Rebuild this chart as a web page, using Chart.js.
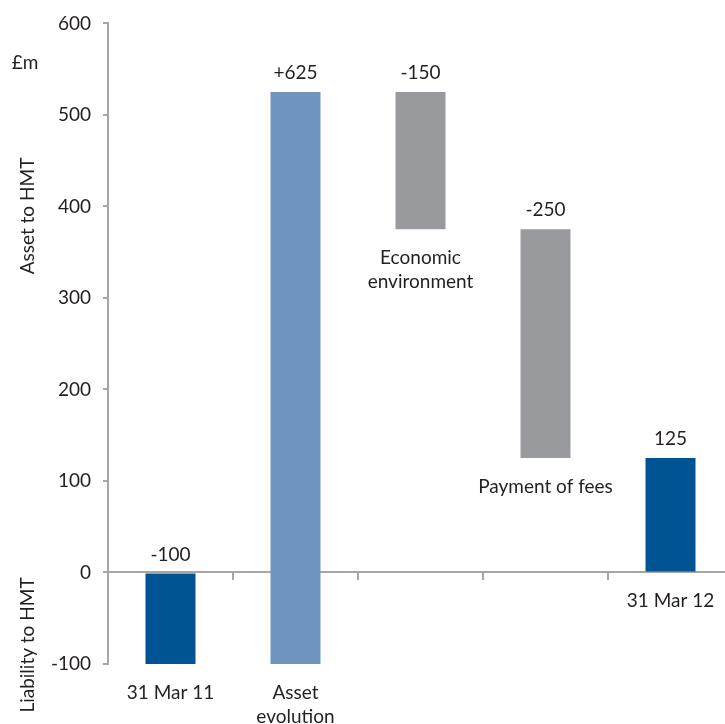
<!DOCTYPE html>
<html>
<head>
<meta charset="utf-8">
<script src="https://cdn.jsdelivr.net/npm/chart.js@4"></script>
<style>
html,body{margin:0;padding:0;background:#fff;overflow:hidden;width:725px;height:724px;}
#wrap{width:735px;height:724px;position:relative;}
</style>
</head>
<body>
<div id="wrap"><canvas id="c" width="735" height="724"></canvas></div>
<script>
// ---- data ----
const categories = ['31 Mar 11', 'Asset evolution', 'Economic environment', 'Payment of fees', '31 Mar 12'];
const categoryLines = [['31 Mar 11'], ['Asset', 'evolution'], ['Economic', 'environment'], ['Payment of fees'], ['31 Mar 12']];
const barStart = [0, -100, 525, 375, 0];
const barEnd = [-100, 525, 375, 125, 125];
const valueLabels = ['-100', '+625', '-150', '-250', '125'];
const yTicks = [-100, 0, 100, 200, 300, 400, 500, 600];

const DARK = '#005493', LIGHT = '#7094c0', GREY = '#999a9e';
const barColors = [DARK, LIGHT, GREY, GREY, DARK];
const AXIS = '#a6a6a6';
const TEXT = '#231f20';
const FONT = 'Lato, "Open Sans", sans-serif';
const FS = 19;

const labelPlugin = {
  id: 'labels',
  afterDatasetsDraw(chart) {
    const ctx = chart.ctx;
    const meta = chart.getDatasetMeta(0);
    ctx.save();
    ctx.fillStyle = TEXT;
    ctx.font = FS + 'px ' + FONT;
    ctx.textAlign = 'center';
    ctx.textBaseline = 'middle';
    meta.data.forEach((el, i) => {
      const top = Math.min(el.y, el.base);
      const bottom = Math.max(el.y, el.base);
      ctx.fillText(valueLabels[i], el.x, top - 19);
      categoryLines[i].forEach((line, j) => {
        ctx.fillText(line, el.x, bottom + 29 + j * 24);
      });
    });
    // axis side titles
    ctx.fillText('£m', 25, 63);
    const drawRot = (t, x, y) => {
      ctx.save();
      ctx.translate(x, y);
      ctx.rotate(-Math.PI / 2);
      ctx.fillText(t, 0, 0);
      ctx.restore();
    };
    drawRot('Asset to HMT', 28, 216);
    drawRot('Liability to HMT', 28, 645);
    ctx.restore();
  }
};

new Chart(document.getElementById('c'), {
  type: 'bar',
  data: {
    labels: categories,
    datasets: [{
      data: barStart.map((s, i) => [s, barEnd[i]]),
      backgroundColor: barColors,
      borderWidth: 0,
      barPercentage: 0.4,
      categoryPercentage: 1.0
    }]
  },
  options: {
    responsive: false,
    animation: false,
    devicePixelRatio: 1,
    layout: { padding: { left: 0, right: 2, top: 23, bottom: 60 } },
    plugins: { legend: { display: false }, tooltip: { enabled: false } },
    scales: {
      x: {
        position: { y: 0 },
        grid: { offset: true, drawOnChartArea: false, drawTicks: true, tickLength: 7, color: AXIS, lineWidth: 2 },
        border: { display: true, color: AXIS, width: 2 },
        ticks: { display: false },
        afterFit(scale) { scale.height = 0; }
      },
      y: {
        min: -100,
        max: 600,
        afterBuildTicks(scale) { scale.ticks = yTicks.map(v => ({ value: v })); },
        grid: { drawOnChartArea: false, drawTicks: true, tickLength: 5, color: AXIS, lineWidth: 2 },
        border: { display: true, color: AXIS, width: 2 },
        ticks: { color: TEXT, font: { family: FONT, size: FS }, padding: 12 },
        afterFit(scale) { scale.width = 108; }
      }
    }
  },
  plugins: [labelPlugin]
});
</script>
</body>
</html>
